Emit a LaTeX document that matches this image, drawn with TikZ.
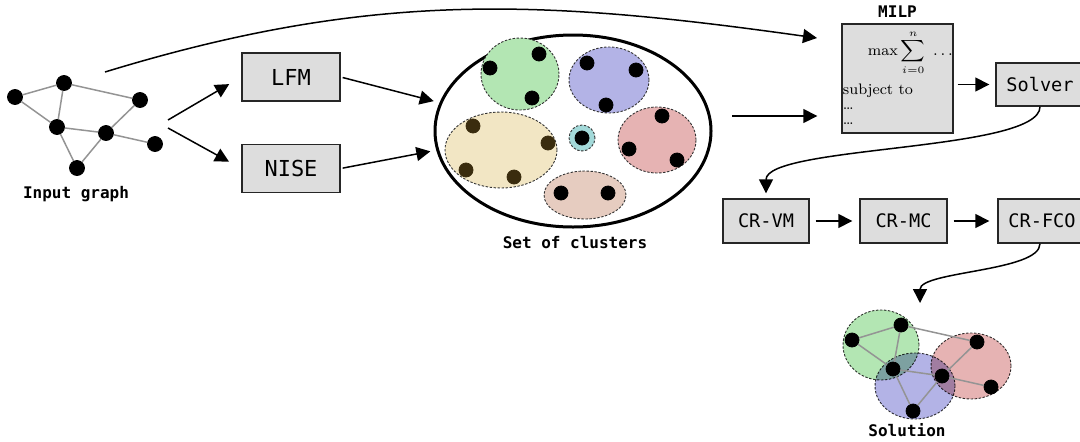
\documentclass[tikz,border=0pt]{standalone}
\usepackage{amsmath}
\usepackage{fontspec}
\setmonofont{DejaVu Sans Mono}
\usetikzlibrary{arrows.meta,shapes.geometric}

\definecolor{boxgray}{RGB}{221,221,221}
\definecolor{clgreen}{RGB}{179,230,179}
\definecolor{clblue}{RGB}{179,179,230}
\definecolor{clred}{RGB}{230,179,179}
\definecolor{clyellow}{RGB}{242,230,196}
\definecolor{clcyan}{RGB}{163,217,217}
\definecolor{cltan}{RGB}{230,204,192}
\definecolor{darkdot}{RGB}{58,44,14}

\begin{document}
\begin{tikzpicture}[x=0.5pt, y=0.5pt, >={Triangle[length=7pt,width=7pt]},
    main/.style = {draw, circle, fill, inner sep=0pt, minimum size=7pt},
    box/.style = {draw=black!85, fill=boxgray, line width=0.7pt, minimum width=43pt, minimum height=22pt, font=\ttfamily\fontsize{9.3}{11}\selectfont},
    blob/.style = {draw=black!80, line width=0.45pt, dash pattern=on 1.2pt off 0.8pt},
    edge/.style = {draw=black!42, line width=0.75pt},
    caption/.style = {font=\ttfamily\bfseries\fontsize{8}{9}\selectfont},
    flow/.style = {->, line width=0.75pt}]
    \useasboundingbox (0,0) rectangle (1080,441);

    % input graph
    \node[main, minimum size=7.5pt] (a) at (15,344) {};
    \node[main, minimum size=7.5pt] (b) at (64,358) {};
    \node[main, minimum size=7.5pt] (c) at (140,341) {};
    \node[main, minimum size=7.5pt] (d) at (57,314) {};
    \node[main, minimum size=7.5pt] (e) at (106,308) {};
    \node[main, minimum size=7.5pt] (f) at (155,297) {};
    \node[main, minimum size=7.5pt] (g) at (77,273) {};
    \draw[edge] (a) -- (b);
    \draw[edge] (b) -- (c);
    \draw[edge] (a) -- (d);
    \draw[edge] (b) -- (d);
    \draw[edge] (d) -- (e);
    \draw[edge] (e) -- (c);
    \draw[edge] (e) -- (f);
    \draw[edge] (d) -- (g);
    \draw[edge] (g) -- (e);
    \node[caption] (inlbl) at (76,247) {Input graph};

    % heuristics
    \node[box, minimum width=49pt, minimum height=24pt, font=\ttfamily\fontsize{11}{13}\selectfont] (LFM) at (291,364) {LFM};
    \node[box, minimum width=49pt, minimum height=24pt, font=\ttfamily\fontsize{11}{13}\selectfont] (NISE) at (291,272.5) {NISE};
    \coordinate (gl) at (168,321);
    \coordinate (gn) at (168,313);
    \draw[flow, shorten >=7pt] (gl) -- (LFM.west);
    \draw[flow, shorten >=7pt] (gn) -- (NISE.west);

    % set of clusters
    \node[draw, ellipse, line width=1.5pt, minimum width=138pt, minimum height=96pt] (clusters) at (573,310) {};
    \draw[blob, fill=clgreen] (520,367) ellipse [x radius=39, y radius=36];
    \draw[blob, fill=clblue] (609,361) ellipse [x radius=40, y radius=33];
    \draw[blob, fill=clyellow] (501,291) ellipse [x radius=56, y radius=38];
    \draw[blob, fill=clcyan] (582,303) circle [radius=13];
    \draw[blob, fill=clred] (657,301) ellipse [x radius=39, y radius=33];
    \draw[blob, fill=cltan] (585,246) ellipse [x radius=41, y radius=24];
    \node[main] (gr1) at (539,387) {};
    \node[main] (gr2) at (490,373) {};
    \node[main] (gr3) at (532,343) {};
    \node[main] (bl1) at (587,378) {};
    \node[main] (bl2) at (636,371) {};
    \node[main] (bl3) at (606,336) {};
    \node[main, draw=darkdot, fill=darkdot] (ye1) at (473,315) {};
    \node[main, draw=darkdot, fill=darkdot] (ye2) at (548,298) {};
    \node[main, draw=darkdot, fill=darkdot] (ye3) at (466,271) {};
    \node[main, draw=darkdot, fill=darkdot] (ye4) at (514,264) {};
    \node[main] (cy1) at (582,303) {};
    \node[main] (rd1) at (662,325) {};
    \node[main] (rd2) at (629,292) {};
    \node[main] (rd3) at (677,281) {};
    \node[main] (tn1) at (561,248) {};
    \node[main] (tn2) at (608,248) {};
    \node[caption] (cllbl) at (575,198) {Set of clusters};
    \draw[flow, shorten <=1pt, shorten >=3pt] (LFM.east) -- (clusters.168);
    \draw[flow, shorten <=1pt, shorten >=3pt] (NISE.east) -- (clusters.188);

    % model and solver
    \node[box, minimum width=55.5pt, minimum height=54.5pt] (MILP) at (897.5,362.5) {};
    \node[anchor=north west, inner sep=0.6pt, align=left, font=\rmfamily\fontsize{7.6}{7.4}\selectfont] (milptxt) at ([yshift=-2.5pt]MILP.north west)
        {\hspace*{12.5pt}$\displaystyle\max\sum_{i=0}^{n}\;\dots$\\[3.5pt]subject to\\\dots\\\dots};
    \node[caption, above=-0.5pt] (milplbl) at (MILP.north) {MILP};
    \node[box, minimum width=44pt, minimum height=21.5pt] (Solver) at (1040,356.5) {Solver};
    \coordinate (cout) at (732,325);
    \coordinate (topin) at (817,403);
    \coordinate (topout) at (105,369);
    \draw[flow, shorten >=12pt] (cout) -- (cout -| MILP.west);
    \draw[flow, shorten <=2pt, shorten >=3pt] (MILP.east |- Solver.west) -- (Solver.west);
    \draw[flow] (topout) to[out=17, in=172] (topin);

    % refinement steps
    \node[box] (CRVM) at (766,220) {CR-VM};
    \node[box, minimum width=43.5pt] (CRMC) at (903.5,220) {CR-MC};
    \node[box, minimum width=44pt] (CRFCO) at (1042,220) {CR-FCO};
    \draw[flow, shorten >=2.5pt] (Solver.south) .. controls +(0,-45) and +(0,53) .. (CRVM.north);
    \draw[flow, shorten <=3pt, shorten >=3.5pt] (CRVM.east) -- (CRMC.west);
    \draw[flow, shorten <=3pt, shorten >=4pt] (CRMC.east) -- (CRFCO.west);

    % solution
    \coordinate (sol) at (920,138);
    \draw[flow] ([xshift=-1pt]CRFCO.south) .. controls +(0,-28) and +(0,32) .. (sol);
    \begin{scope}[blend mode=multiply]
        \draw[blob, fill=clgreen] (881,96) ellipse [x radius=38, y radius=35];
        \draw[blob, fill=clblue] (915,55) ellipse [x radius=40, y radius=33];
        \draw[blob, fill=clred] (971,75) ellipse [x radius=40, y radius=33];
    \end{scope}
    \node[main] (s1) at (852,101) {};
    \node[main] (s2) at (901,116) {};
    \node[main] (s3) at (977,99) {};
    \node[main] (s4) at (893,72) {};
    \node[main] (s5) at (942,65) {};
    \node[main] (s6) at (991,54) {};
    \node[main] (s7) at (913,30) {};
    \draw[edge] (s1) -- (s2);
    \draw[edge] (s2) -- (s3);
    \draw[edge] (s1) -- (s4);
    \draw[edge] (s2) -- (s4);
    \draw[edge] (s4) -- (s5);
    \draw[edge] (s5) -- (s3);
    \draw[edge] (s5) -- (s6);
    \draw[edge] (s4) -- (s7);
    \draw[edge] (s7) -- (s5);
    \node[caption] (sollbl) at (907,11) {Solution};
\end{tikzpicture}
\end{document}
